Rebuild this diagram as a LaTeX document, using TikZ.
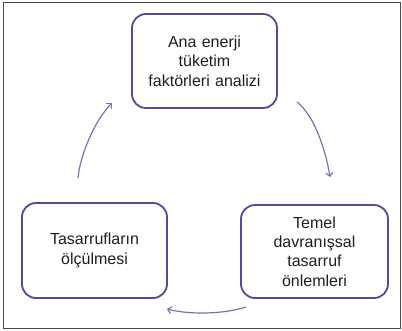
\documentclass[tikz,border=0pt]{standalone}
\usepackage{fontspec}
\setmainfont{Liberation Sans}
\usetikzlibrary{arrows.meta}
\definecolor{boxc}{HTML}{55499B}
\definecolor{arrc}{HTML}{7B72B0}
\definecolor{framec}{HTML}{4A4A4A}
\definecolor{txt}{HTML}{1E1E1E}
\begin{document}
\begin{tikzpicture}[x=1pt,y=-1pt,
  stepbox/.style={draw=boxc,line width=1.8pt,rounded corners=14pt,align=center,
    text width=136pt,text=txt,font=\fontsize{16}{19.3}\selectfont,inner xsep=4.5pt,inner ysep=0pt},
  cyc/.style={draw=arrc,line width=1.2pt,-{Straight Barb[length=3.5pt,width=7pt]}}]
\useasboundingbox (0,0) rectangle (402,330);
\draw[framec,line width=1pt] (3,2) rectangle (400.5,328);
\node[stepbox,minimum width=145pt,minimum height=94pt] (top) at (204.5,61)
  {Ana enerji\\tüketim\\faktörleri analizi};
\node[stepbox,minimum width=147pt,minimum height=93pt] (right) at (314.5,251.5)
  {Temel\\davranışsal\\tasarruf\\önlemleri};
\node[stepbox,minimum width=145pt,minimum height=95pt] (left) at (94.5,250.5)
  {Tasarrufların\\ölçülmesi};
\coordinate (a1s) at (297,102);
\coordinate (a1e) at (330,177);
\coordinate (a2s) at (246,307);
\coordinate (a2e) at (167,309);
\coordinate (a3s) at (78,178);
\coordinate (a3e) at (112,103);
\draw[cyc] (a1s) .. controls (315,116) and (326,152) .. (a1e);
\draw[cyc] (a2s) .. controls (225,314) and (190,315) .. (a2e);
\draw[cyc] (a3s) .. controls (80,155) and (95,120) .. (a3e);
\end{tikzpicture}
\end{document}
